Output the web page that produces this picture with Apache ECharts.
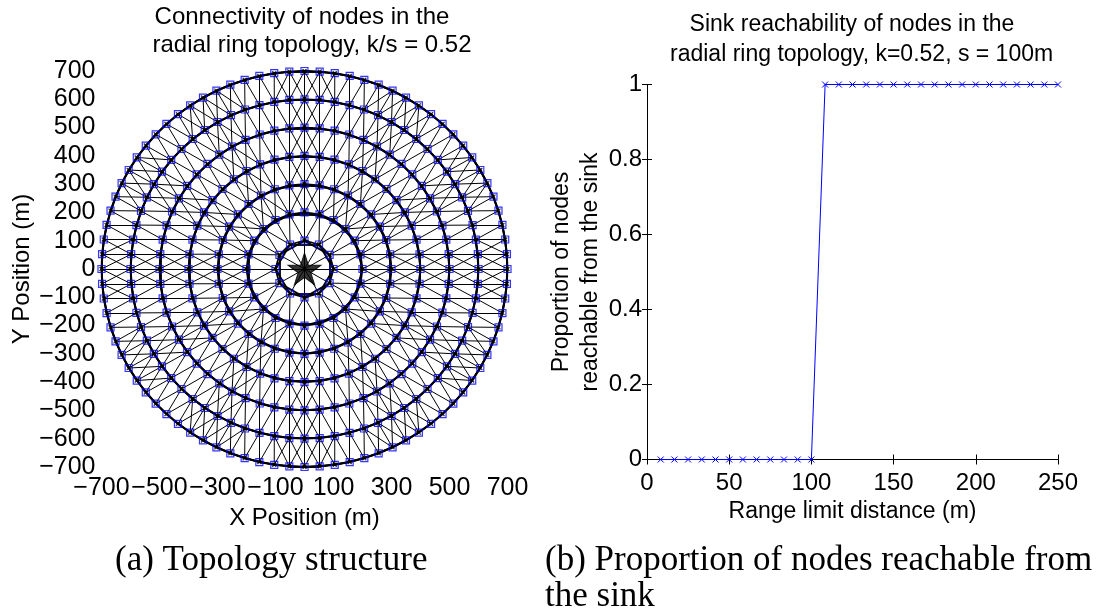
<!DOCTYPE html>
<html>
<head>
<meta charset="utf-8">
<script src="https://cdn.jsdelivr.net/npm/echarts@6/dist/echarts.min.js"></script>
<style>
  html, body { margin: 0; padding: 0; background: #ffffff; }
  #chart { width: 1106px; height: 613px; }
</style>
</head>
<body>
<div id="chart"></div>
<script>
// Radial ring topology: rings every 100 m around the sink, 12 nodes per 100 m of radius
const ringRadii = [100, 200, 300, 400, 500, 600, 700];
const nodesPerRing = [12, 24, 36, 48, 60, 72, 84];
const commRange = 120;          // nodes closer than this (m) are linked
const sinkPosition = [0, 0];
const topoXTicks = [-700, -500, -300, -100, 100, 300, 500, 700];
const topoYTicks = [-700, -600, -500, -400, -300, -200, -100, 0, 100, 200, 300, 400, 500, 600, 700];

// Sink reachability against the range limit distance
const rangeLimits = [8.33, 16.67, 25, 33.33, 41.67, 50, 58.33, 66.67, 75, 83.33, 91.67, 100,
                     108.33, 116.67, 125, 133.33, 141.67, 150, 158.33, 166.67, 175, 183.33,
                     191.67, 200, 208.33, 216.67, 225, 233.33, 241.67, 250];
const reachable = [0, 0, 0, 0, 0, 0, 0, 0, 0, 0, 0, 0,
                   1, 1, 1, 1, 1, 1, 1, 1, 1, 1, 1, 1, 1, 1, 1, 1, 1, 1];
const rangeTicks = [0, 50, 100, 150, 200, 250];
const proportionTicks = [0, 0.2, 0.4, 0.6, 0.8, 1];

// Node positions on each ring (ring index kept to tell ring links from cross links)
const ringNodes = [];
const allNodes = [{ pos: sinkPosition, ring: -1 }];
ringRadii.forEach(function (r, i) {
  const n = nodesPerRing[i];
  for (let j = 0; j < n; j++) {
    const a = 2 * Math.PI * j / n;
    const p = [r * Math.cos(a), r * Math.sin(a)];
    ringNodes.push(p);
    allNodes.push({ pos: p, ring: i });
  }
});

// Links between every pair of nodes within communication range
const ringLinks = [];
const crossLinks = [];
for (let i = 0; i < allNodes.length; i++) {
  for (let j = i + 1; j < allNodes.length; j++) {
    const a = allNodes[i], b = allNodes[j];
    const dx = a.pos[0] - b.pos[0];
    const dy = a.pos[1] - b.pos[1];
    if (Math.sqrt(dx * dx + dy * dy) <= commRange + 1e-6) {
      (a.ring === b.ring ? ringLinks : crossLinks).push({ coords: [a.pos, b.pos] });
    }
  }
}

const FONT = 'Liberation Sans, Arial, Helvetica, sans-serif';
const SERIF = 'Liberation Serif, Times New Roman, serif';
const minusFmt = function (v) { return v < 0 ? '\u2212' + Math.abs(v) : String(v); };
const crossPath = 'path://M0,0L10,10M10,0L0,10';
const starPath = 'path://M50,0L61.2,34.5L97.6,34.5L68.2,55.9L79.4,90.5L50,69.1L20.6,90.5L31.8,55.9L2.4,34.5L38.8,34.5Z';

const leftLabel = { color: '#000', fontFamily: FONT, fontSize: 25 };
const rightLabel = { color: '#000', fontFamily: FONT, fontSize: 24 };
const axisLine = { show: true, lineStyle: { color: '#000', width: 1 } };

const chart = echarts.init(document.getElementById('chart'), null, { renderer: 'canvas' });

chart.setOption({
  backgroundColor: '#ffffff',
  animation: false,
  title: [
    {
      text: 'Connectivity of nodes in the\n   radial ring topology, k/s = 0.52',
      left: 302, top: 3, textAlign: 'center', padding: 0,
      textStyle: { color: '#000', fontFamily: FONT, fontSize: 24, fontWeight: 'normal', lineHeight: 28 }
    },
    {
      text: 'Sink reachability of nodes in the\n   radial ring topology, k=0.52, s = 100m',
      left: 852, top: 10, textAlign: 'center', padding: 0,
      textStyle: { color: '#000', fontFamily: FONT, fontSize: 23, fontWeight: 'normal', lineHeight: 30 }
    }
  ],
  grid: [
    { left: 101.5, top: 71, width: 406, height: 396 },
    { left: 647, top: 84.5, width: 411, height: 375 }
  ],
  xAxis: [
    {
      type: 'value', gridIndex: 0, min: -700, max: 700,
      axisLine: axisLine,
      axisTick: { show: true, inside: true, length: 4, lineStyle: { color: '#000' }, customValues: topoXTicks },
      axisLabel: Object.assign({ margin: 9, formatter: minusFmt, customValues: topoXTicks }, leftLabel),
      splitLine: { show: false },
      name: 'X Position (m)', nameLocation: 'middle', nameGap: 34,
      nameTextStyle: { color: '#000', fontFamily: FONT, fontSize: 24 }
    },
    {
      type: 'value', gridIndex: 1, min: 0, max: 250, interval: 50,
      axisLine: axisLine,
      axisTick: { show: true, inside: true, length: 5, lineStyle: { color: '#000' } },
      axisLabel: Object.assign({ margin: 12, customValues: rangeTicks }, rightLabel),
      splitLine: { show: false },
      name: 'Range limit distance (m)', nameLocation: 'middle', nameGap: 40,
      nameTextStyle: { color: '#000', fontFamily: FONT, fontSize: 23 }
    },
    {
      type: 'value', gridIndex: 1, position: 'top', min: 0, max: 250, interval: 50,
      axisLine: axisLine,
      axisTick: { show: true, inside: true, length: 5, lineStyle: { color: '#000' } },
      axisLabel: { show: false },
      splitLine: { show: false }
    }
  ],
  yAxis: [
    {
      type: 'value', gridIndex: 0, min: -700, max: 700, interval: 100,
      axisLine: axisLine,
      axisTick: { show: true, inside: true, length: 4, lineStyle: { color: '#000' } },
      axisLabel: Object.assign({ margin: 6, formatter: minusFmt, customValues: topoYTicks }, leftLabel),
      splitLine: { show: false },
      name: 'Y Position (m)', nameLocation: 'middle', nameGap: 67, nameRotate: 90,
      nameTextStyle: { color: '#000', fontFamily: FONT, fontSize: 24 }
    },
    {
      type: 'value', gridIndex: 1, min: 0, max: 1, interval: 0.2,
      axisLine: axisLine,
      axisTick: { show: true, inside: true, length: 5, lineStyle: { color: '#000' } },
      axisLabel: Object.assign({ margin: 5, customValues: proportionTicks }, rightLabel),
      splitLine: { show: false },
      name: 'Proportion of nodes\nreachable from the sink', nameLocation: 'middle', nameGap: 34, nameRotate: 90,
      nameTextStyle: { color: '#000', fontFamily: FONT, fontSize: 23, lineHeight: 29 }
    },
    {
      type: 'value', gridIndex: 1, position: 'right', min: 0, max: 1, interval: 0.2,
      axisLine: axisLine,
      axisTick: { show: true, inside: true, length: 5, lineStyle: { color: '#000' } },
      axisLabel: { show: false },
      splitLine: { show: false }
    }
  ],
  graphic: [
    {
      type: 'text', left: 115, top: 543,
      style: { text: '(a) Topology structure', font: '35px ' + SERIF, fill: '#000' }
    },
    {
      type: 'text', left: 545, top: 543,
      style: { text: '(b) Proportion of nodes reachable from\nthe sink', font: '35px ' + SERIF, fill: '#000', lineHeight: 36 }
    }
  ],
  series: [
    {
      name: 'cross links', type: 'lines', coordinateSystem: 'cartesian2d', xAxisIndex: 0, yAxisIndex: 0,
      data: crossLinks, silent: true, z: 1,
      lineStyle: { color: '#000', width: 1, opacity: 1, curveness: 0 }
    },
    {
      name: 'ring links', type: 'lines', coordinateSystem: 'cartesian2d', xAxisIndex: 0, yAxisIndex: 0,
      data: ringLinks, silent: true, z: 2,
      lineStyle: { color: '#000', width: 1.8, opacity: 1, curveness: 0 }
    },
    {
      name: 'nodes', type: 'scatter', xAxisIndex: 0, yAxisIndex: 0, data: ringNodes,
      symbol: 'rect', symbolSize: 7, silent: true, z: 3,
      itemStyle: { color: 'rgba(0,0,0,0)', borderColor: '#0000ff', borderWidth: 1.2 }
    },
    {
      name: 'node centres', type: 'scatter', xAxisIndex: 0, yAxisIndex: 0, data: ringNodes,
      symbol: crossPath, symbolSize: 4, silent: true, z: 4,
      itemStyle: { color: '#000', borderColor: '#000', borderWidth: 1.3 }
    },
    {
      name: 'sink', type: 'scatter', xAxisIndex: 0, yAxisIndex: 0, data: [sinkPosition],
      symbol: starPath, symbolSize: [33, 32], silent: true, z: 5,
      itemStyle: { color: '#000', borderColor: '#000', borderWidth: 1 }
    },
    {
      name: 'reachability', type: 'line', xAxisIndex: 1, yAxisIndex: 1,
      data: rangeLimits.map(function (x, i) { return [x, reachable[i]]; }),
      symbol: crossPath, symbolSize: 6, showAllSymbol: true, clip: false,
      lineStyle: { color: '#0000ff', width: 1 },
      itemStyle: { color: '#0000ff', borderColor: '#0000ff', borderWidth: 1 }
    }
  ]
});
</script>
</body>
</html>
